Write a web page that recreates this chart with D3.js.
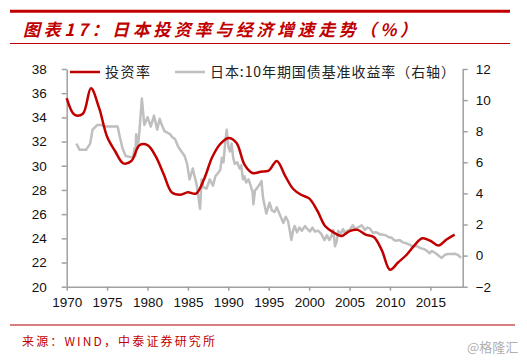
<!DOCTYPE html>
<html>
<head>
<meta charset="utf-8">
<script src="https://cdn.jsdelivr.net/npm/d3@7"></script>
<style>
  body { margin: 0; background: #fff; }
  svg { display: block; }
  .axis path, .axis line { stroke: #a0a0a0; stroke-width: 1.5px; }
  .axis text { font-family: "Liberation Sans", Arial, sans-serif; font-size: 13.5px; fill: #111; }
</style>
</head>
<body>
<div id="chart"></div>
<script>
// Data

// investment rate (left axis), annual
const years = [1970, 1971, 1972, 1973, 1974, 1975, 1976, 1977, 1978, 1979,
  1980, 1981, 1982, 1983, 1984, 1985, 1986, 1987, 1988, 1989,
  1990, 1991, 1992, 1993, 1994, 1995, 1996, 1997, 1998, 1999,
  2000, 2001, 2002, 2003, 2004, 2005, 2006, 2007, 2008, 2009,
  2010, 2011, 2012, 2013, 2014, 2015, 2016, 2017, 2018];
const investRate = [35.6, 34.2, 34.3, 36.4, 34.8, 32.4, 31.2, 30.2, 30.4, 31.7,
  31.7, 30.8, 29.3, 27.8, 27.6, 27.8, 27.7, 28.9, 30.7, 31.8,
  32.3, 31.9, 30.1, 29.4, 29.5, 29.6, 30.4, 29.2, 28.1, 27.6,
  27.3, 26.3, 25.0, 24.5, 24.2, 24.6, 24.7, 24.3, 24.1, 23.0,
  21.4, 22.0, 22.6, 23.4, 24.0, 23.8, 23.4, 23.9, 24.3];

// 10y government bond yield (right axis)
const bondDates = [1971.2, 1971.6, 1972.4, 1972.9, 1973.2, 1973.8, 1974.4, 1974.6, 1976.3, 1976.5,
  1976.9, 1977.3, 1978.2, 1978.4, 1978.5, 1978.6, 1978.8, 1979.0, 1979.3, 1979.6,
  1980.0, 1980.4, 1980.8, 1981.2, 1981.5, 1981.7, 1982.1, 1982.5, 1982.8, 1983.1,
  1983.4, 1983.8, 1984.2, 1984.6, 1984.9, 1985.2, 1985.6, 1986.1, 1986.5, 1986.7,
  1986.9, 1987.3, 1987.7, 1988.1, 1988.4, 1988.7, 1989.0, 1989.2, 1989.4, 1989.6,
  1989.8, 1990.0, 1990.2, 1990.4, 1990.6, 1990.8, 1991.1, 1991.4, 1991.6, 1991.8,
  1992.0, 1992.2, 1992.5, 1992.7, 1993.0, 1993.1, 1993.3, 1993.5, 1993.9, 1994.1,
  1994.3, 1994.7, 1995.1, 1995.4, 1995.7, 1996.0, 1996.4, 1996.8, 1997.1, 1997.4,
  1997.8, 1998.0, 1998.2, 1998.5, 1998.8, 1999.1, 1999.5, 1999.8, 2000.1, 2000.4,
  2000.7, 2001.1, 2001.5, 2001.9, 2002.2, 2002.5, 2002.8, 2003.0, 2003.2, 2003.4,
  2003.6, 2003.9, 2004.2, 2004.4, 2004.7, 2005.0, 2005.4, 2005.7, 2006.0, 2006.5,
  2006.9, 2007.2, 2007.5, 2007.9, 2008.2, 2008.5, 2008.8, 2009.1, 2009.5, 2009.8,
  2010.2, 2010.5, 2010.8, 2011.2, 2011.6, 2012.0, 2012.4, 2012.8, 2013.0, 2013.4,
  2013.7, 2014.0, 2014.3, 2014.6, 2014.9, 2015.2, 2015.5, 2015.8, 2016.0, 2016.4,
  2016.8, 2017.2, 2017.6, 2018.0, 2018.4, 2018.8];
const bondYield = [7.2, 6.8, 6.8, 7.2, 8.1, 8.4, 8.4, 8.3, 8.3, 7.8,
  6.9, 6.4, 6.3, 6.9, 6.4, 7.8, 6.9, 8.0, 10.1, 8.4,
  8.9, 8.3, 9.0, 8.1, 8.8, 8.5, 8.0, 7.9, 7.8, 7.6,
  7.5, 7.0, 6.7, 6.4, 5.9, 4.9, 5.6, 4.5, 3.0, 4.9,
  4.4, 4.3, 4.9, 4.5, 5.1, 5.3, 5.5, 6.3, 6.0, 7.2,
  8.1, 7.0, 6.7, 7.2, 6.3, 5.9, 6.0, 5.6, 5.8, 4.9,
  5.1, 4.7, 4.9, 4.6, 4.1, 3.3, 4.2, 4.3, 4.6, 4.8,
  3.7, 2.7, 3.4, 2.9, 2.8, 3.1, 2.6, 2.1, 2.5, 2.2,
  1.0, 1.6, 1.9, 1.5, 1.8, 1.6, 1.9, 1.7, 1.55, 1.8,
  1.55, 1.6, 1.4, 1.0, 1.3, 1.0, 1.3, 1.65, 0.6, 0.9,
  1.6, 1.4, 1.7, 1.45, 1.6, 1.65, 1.95, 1.7, 1.8, 1.95,
  1.65, 1.8, 1.75, 1.45, 1.5, 1.45, 1.35, 1.35, 1.3, 1.2,
  1.15, 1.0, 0.95, 1.0, 0.85, 0.8, 0.7, 0.6, 0.6, 0.6,
  0.5, 0.45, 0.4, 0.3, 0.15, 0.3, 0.2, 0.1, 0.0, -0.15,
  0.05, 0.1, 0.1, 0.12, 0.05, -0.15];

const xTicks = [1970, 1975, 1980, 1985, 1990, 1995, 2000, 2005, 2010, 2015];
const leftTicks = [20, 22, 24, 26, 28, 30, 32, 34, 36, 38];
const rightTicks = [-2, 0, 2, 4, 6, 8, 10, 12];

const svgWidth = 527, svgHeight = 362;
const plotLeft = 66.7, plotRight = 462.7, plotTop = 69, plotBottom = 286.7;
const red = "#c00000", grey = "#bfbfbf";
const cjk = "'Noto Sans CJK SC', sans-serif";

const svg = d3.select('#chart').append('svg')
  .attr('width', svgWidth)
  .attr('height', svgHeight);

// header
svg.append("line")
  .attr("x1", 10).attr("x2", 510).attr("y1", 11.3).attr("y2", 11.3)
  .style("stroke", red).style("stroke-width", 3);

svg.append("text")
  .attr("x", 23).attr("y", 36)
  .attr("textLength", 394).attr("lengthAdjust", "spacing")
  .style("font-family", cjk).style("font-size", "17px")
  .style("font-weight", "bold").style("font-style", "italic")
  .style("fill", red)
  .text("图表17：日本投资率与经济增速走势（%）");

svg.append("line")
  .attr("x1", 10).attr("x2", 510).attr("y1", 43.5).attr("y2", 43.5)
  .style("stroke", red).style("stroke-width", 1);

// scales
const xScale = d3.scaleLinear().domain([1970, 2019]).range([plotLeft, plotRight]);
const yLeft = d3.scaleLinear().domain([20, 38]).range([plotBottom, plotTop]);
const yRight = d3.scaleLinear().domain([-2, 12]).range([plotBottom, plotTop]);

// axes
svg.append("g")
  .attr("class", "axis")
  .attr("transform", "translate(0," + plotBottom + ")")
  .call(d3.axisBottom(xScale).tickValues(xTicks).tickFormat(d3.format("d"))
    .tickSize(4).tickSizeOuter(0).tickPadding(7));

svg.append("g")
  .attr("class", "axis")
  .attr("transform", "translate(" + plotLeft + ",0)")
  .call(d3.axisLeft(yLeft).tickValues(leftTicks)
    .tickSize(5).tickSizeOuter(0).tickPadding(15));

svg.append("g")
  .attr("class", "axis")
  .attr("transform", "translate(" + plotRight + ",0)")
  .call(d3.axisRight(yRight).tickValues(rightTicks)
    .tickSize(5).tickSizeOuter(0).tickPadding(8));

// lines
const bondLine = d3.line()
  .x((d, i) => xScale(bondDates[i]))
  .y(d => yRight(d));

svg.append("path")
  .datum(bondYield)
  .attr("d", bondLine)
  .style("fill", "none")
  .style("stroke", grey)
  .style("stroke-width", 2.5)
  .style("stroke-linejoin", "round");

const investLine = d3.line()
  .x((d, i) => xScale(years[i]))
  .y(d => yLeft(d))
  .curve(d3.curveCatmullRom);

svg.append("path")
  .datum(investRate)
  .attr("d", investLine)
  .style("fill", "none")
  .style("stroke", red)
  .style("stroke-width", 2.5);

// legend
const legend = svg.append("g").style("font-family", cjk).style("font-size", "14px");
legend.append("line")
  .attr("x1", 70).attr("x2", 100).attr("y1", 72).attr("y2", 72)
  .style("stroke", red).style("stroke-width", 2.5);
legend.append("text")
  .attr("x", 105).attr("y", 77)
  .attr("textLength", 45).attr("lengthAdjust", "spacing")
  .style("fill", "#222")
  .text("投资率");
legend.append("line")
  .attr("x1", 175).attr("x2", 205).attr("y1", 72).attr("y2", 72)
  .style("stroke", grey).style("stroke-width", 2.5);
legend.append("text")
  .attr("x", 210).attr("y", 77)
  .attr("textLength", 245).attr("lengthAdjust", "spacing")
  .style("fill", "#222")
  .text("日本:10年期国债基准收益率（右轴）");

// footer
svg.append("line")
  .attr("x1", 10).attr("x2", 515).attr("y1", 325).attr("y2", 325)
  .style("stroke", "#b00000").style("stroke-width", 1);

svg.append("text")
  .attr("x", 22).attr("y", 346)
  .attr("textLength", 193).attr("lengthAdjust", "spacing")
  .style("font-family", cjk).style("font-size", "12px")
  .style("fill", red)
  .text("来源：WIND，中泰证券研究所");

svg.append("text")
  .attr("x", 467).attr("y", 352)
  .style("font-family", cjk).style("font-size", "13px")
  .style("fill", "#b0b0b0")
  .text("@格隆汇");
</script>
</body>
</html>
